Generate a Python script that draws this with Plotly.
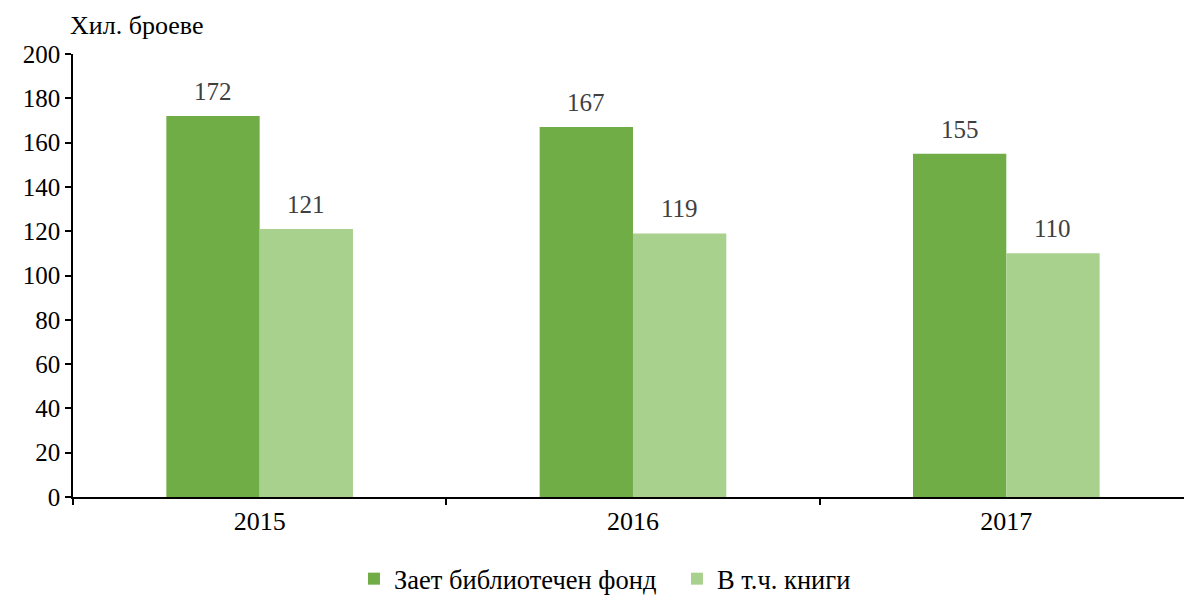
import plotly.graph_objects as go

years = ["2015", "2016", "2017"]
series_names = ["Зает библиотечен фонд", "В т.ч. книги"]
fund_values = [172, 167, 155]
books_values = [121, 119, 110]
y_ticks = [0, 20, 40, 60, 80, 100, 120, 140, 160, 180, 200]
axis_title = "Хил. броеве"

colors = ["#70AD47", "#A9D18E"]
font_family = "Liberation Serif"

fig = go.Figure()
for name, vals, col, off in [(series_names[0], fund_values, colors[0], 0),
                             (series_names[1], books_values, colors[1], 1)]:
    fig.add_trace(go.Bar(
        x=years, y=vals, name=name, marker=dict(color=col, line=dict(width=0)),
        offsetgroup=str(off),
    ))

annotations = []
for i, vals in enumerate([fund_values, books_values]):
    for j, v in enumerate(vals):
        annotations.append(dict(
            x=j, y=v, xref="x", yref="y", text=str(v), showarrow=False,
            xanchor="center", yanchor="bottom", yshift=9,
            xshift=(-46.5 if i == 0 else 46.5),
            font=dict(family=font_family, size=25, color="#404040"),
        ))
annotations.append(dict(
    x=0, y=1, xref="paper", yref="paper", text=axis_title, showarrow=False,
    xanchor="left", yanchor="bottom", xshift=-5, yshift=12,
    font=dict(family=font_family, size=26, color="#000000"),
))

fig.update_layout(
    width=1184, height=595,
    margin=dict(l=73, r=0, t=54, b=98),
    paper_bgcolor="white", plot_bgcolor="white",
    barmode="group", bargap=0.5, bargroupgap=0,
    font=dict(family=font_family, size=25, color="#000000"),
    showlegend=True,
    legend=dict(orientation="h", x=0.2529, xanchor="left",
                yref="container", y=0.027, yanchor="middle",
                font=dict(family=font_family, size=26.5, color="#000000"),
                itemwidth=30, traceorder="normal",
                entrywidth=278, entrywidthmode="pixels"),
    annotations=annotations,
)
fig.update_xaxes(
    type="category", range=[-0.5, 2.476],
    showline=True, linecolor="black", linewidth=1.5,
    ticks="outside", tickson="boundaries", ticklen=6, tickcolor="black", tickwidth=1.5,
    showgrid=False, zeroline=False,
    tickfont=dict(family=font_family, size=26, color="#000000"),
)
fig.update_yaxes(
    range=[0, 200], tickvals=y_ticks,
    showline=True, linecolor="black", linewidth=1.5,
    ticks="outside", ticklen=6, tickcolor="black", tickwidth=1.5,
    showgrid=False, zeroline=False,
    tickfont=dict(family=font_family, size=25, color="#000000"),
)

fig.write_html("out.html", config={"displayModeBar": False},
               post_script="document.body.style.margin='0';")
